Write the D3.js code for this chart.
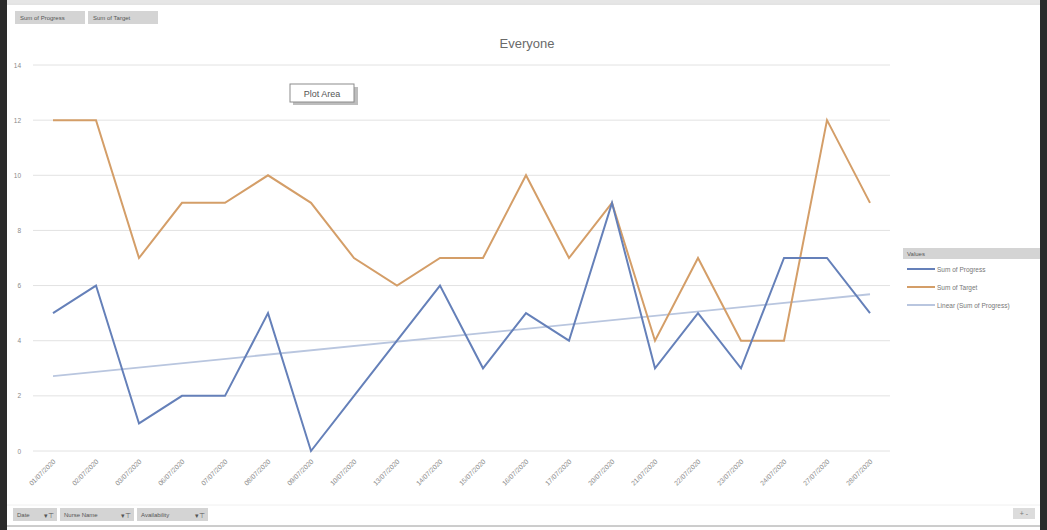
<!DOCTYPE html>
<html lang="en">
<head>
    <meta charset="utf-8">
    <script type="text/javascript" src="https://cdn.jsdelivr.net/npm/d3@7/dist/d3.min.js"></script>
    <style>
        body { margin: 0; background: #fff; }
        text { font-family: "Liberation Sans", Arial, sans-serif; }
    </style>
</head>
<body>
<script type="text/javascript">

    // data
    let dates = ["01/07/2020", "02/07/2020", "03/07/2020", "06/07/2020", "07/07/2020",
        "08/07/2020", "09/07/2020", "10/07/2020", "13/07/2020", "14/07/2020",
        "15/07/2020", "16/07/2020", "17/07/2020", "20/07/2020", "21/07/2020",
        "22/07/2020", "23/07/2020", "24/07/2020", "27/07/2020", "28/07/2020"];
    let progress = [5, 6, 1, 2, 2, 5, 0, 2, 4, 6, 3, 5, 4, 9, 3, 5, 3, 7, 7, 5];
    let target = [12, 12, 7, 9, 9, 10, 9, 7, 6, 7, 7, 10, 7, 9, 4, 7, 4, 4, 12, 9];
    let yTicks = [0, 2, 4, 6, 8, 10, 12, 14];
    let seriesNames = ["Sum of Progress", "Sum of Target", "Linear (Sum of Progress)"];
    let topButtons = ["Sum of Progress", "Sum of Target"];
    let bottomButtons = ["Date", "Nurse Name", "Availability"];

    //Width and height
    let w = 1047;
    let h = 530;

    let svg = d3.select("body")
        .append("svg")
        .attr("width", w)
        .attr("height", h);

    // window frame
    svg.append("rect").attr("width", w).attr("height", h).attr("fill", "#fff");
    svg.append("rect").attr("x", 0).attr("y", 0).attr("width", 7).attr("height", h).attr("fill", "#2b2b2b");
    svg.append("rect").attr("x", 1040).attr("y", 0).attr("width", 7).attr("height", h).attr("fill", "#2b2b2b");
    svg.append("rect").attr("x", 7).attr("y", 0).attr("width", 1033).attr("height", 3).attr("fill", "#e6e6e6");
    svg.append("line").attr("x1", 7).attr("x2", 1040).attr("y1", 4).attr("y2", 4).attr("stroke", "#c8c8c8");
    svg.append("line").attr("x1", 7).attr("x2", 1040).attr("y1", 526).attr("y2", 526).attr("stroke", "#9a9a9a");
    svg.append("line").attr("x1", 7).attr("x2", 1040).attr("y1", 505).attr("y2", 505).attr("stroke", "#f0f0f0");

    let x = d3.scalePoint()
        .domain(dates)
        .range([53, 870]);

    let y = d3.scaleLinear()
        .domain([0, 14])
        .range([451, 65]);

    // gridlines + y labels
    svg.append("g")
        .selectAll("line")
        .data(yTicks)
        .enter()
        .append("line")
        .attr("x1", 33)
        .attr("x2", 890)
        .attr("y1", d => y(d))
        .attr("y2", d => y(d))
        .attr("stroke", "#e2e2e2")
        .attr("stroke-width", 1);

    svg.append("g")
        .selectAll("text")
        .data(yTicks)
        .enter()
        .append("text")
        .attr("x", 21)
        .attr("y", d => y(d) + 2.5)
        .attr("text-anchor", "end")
        .attr("font-size", 6.5)
        .attr("fill", "#8a8a8a")
        .text(d => d);

    // x labels, rotated
    svg.append("g")
        .selectAll("text")
        .data(dates)
        .enter()
        .append("text")
        .attr("text-anchor", "end")
        .attr("font-size", 6.8)
        .attr("fill", "#8a8a8a")
        .attr("transform", d => "translate(" + (x(d) + 3) + ",462) rotate(-45)")
        .text(d => d);

    // title
    svg.append("text")
        .attr("x", 527)
        .attr("y", 48)
        .attr("text-anchor", "middle")
        .attr("font-size", 13)
        .attr("fill", "#6a6a6a")
        .text("Everyone");

    // linear trend of progress
    let n = progress.length;
    let xs = d3.range(1, n + 1);
    let mx = d3.mean(xs), my = d3.mean(progress);
    let slope = d3.sum(xs, (v, i) => (v - mx) * (progress[i] - my)) / d3.sum(xs, v => (v - mx) * (v - mx));
    let icpt = my - slope * mx;
    let trend = xs.map(v => icpt + slope * v);

    let line = d3.line()
        .x((d, i) => x(dates[i]))
        .y(d => y(d));

    svg.append("path")
        .datum([trend[0], trend[n - 1]])
        .attr("d", d3.line().x((d, i) => x(dates[i * (n - 1)])).y(d => y(d)))
        .attr("fill", "none")
        .attr("stroke", "#b9c6df")
        .attr("stroke-width", 1.8);

    svg.append("path")
        .datum(target)
        .attr("d", line)
        .attr("fill", "none")
        .attr("stroke", "#d49e68")
        .attr("stroke-width", 2);

    svg.append("path")
        .datum(progress)
        .attr("d", line)
        .attr("fill", "none")
        .attr("stroke", "#6580b9")
        .attr("stroke-width", 2);

    // "Plot Area" tooltip
    let tip = svg.append("g").attr("transform", "translate(290,84)");
    tip.append("rect").attr("x", 3).attr("y", 3).attr("width", 65).attr("height", 18).attr("fill", "#bdbdbd");
    tip.append("rect").attr("width", 64).attr("height", 18).attr("fill", "#fff").attr("stroke", "#8c8c8c");
    tip.append("text").attr("x", 32).attr("y", 13).attr("text-anchor", "middle")
        .attr("font-size", 9).attr("fill", "#555").text("Plot Area");

    // field buttons
    let bx = 15;
    topButtons.forEach(function (t) {
        let bw = 70;
        svg.append("rect").attr("x", bx).attr("y", 11).attr("width", bw).attr("height", 13).attr("fill", "#d4d4d4");
        svg.append("text").attr("x", bx + 5).attr("y", 20).attr("font-size", 6).attr("fill", "#555").text(t);
        bx += bw + 3;
    });

    let bws = [44, 74, 71];
    bx = 13;
    bottomButtons.forEach(function (t, i) {
        let bw = bws[i];
        svg.append("rect").attr("x", bx).attr("y", 508).attr("width", bw).attr("height", 13).attr("fill", "#d4d4d4");
        svg.append("text").attr("x", bx + 4).attr("y", 517).attr("font-size", 6).attr("fill", "#555").text(t);
        svg.append("text").attr("x", bx + bw - 13).attr("y", 518).attr("font-size", 7).attr("fill", "#555").text("▾⊤");
        bx += bw + 3;
    });

    // +/- buttons bottom-right
    svg.append("rect").attr("x", 1013).attr("y", 508).attr("width", 22).attr("height", 11).attr("fill", "#dcdcdc");
    svg.append("text").attr("x", 1024).attr("y", 516).attr("text-anchor", "middle")
        .attr("font-size", 7).attr("fill", "#777").text("+ -");

    // legend
    let colors = ["#6580b9", "#d49e68", "#b9c6df"];
    svg.append("rect").attr("x", 903).attr("y", 248).attr("width", 137).attr("height", 11).attr("fill", "#d4d4d4");
    svg.append("text").attr("x", 907).attr("y", 256).attr("font-size", 6).attr("fill", "#555").text("Values");

    let lg = svg.append("g")
        .selectAll("g")
        .data(seriesNames)
        .enter()
        .append("g")
        .attr("transform", (d, i) => "translate(907," + (269 + i * 18) + ")");
    lg.append("line").attr("x1", 0).attr("x2", 28).attr("stroke", (d, i) => colors[i]).attr("stroke-width", 2);
    lg.append("text").attr("x", 30).attr("y", 2.5).attr("font-size", 6.5).attr("fill", "#777").text(d => d);

</script>
</body>
</html>
